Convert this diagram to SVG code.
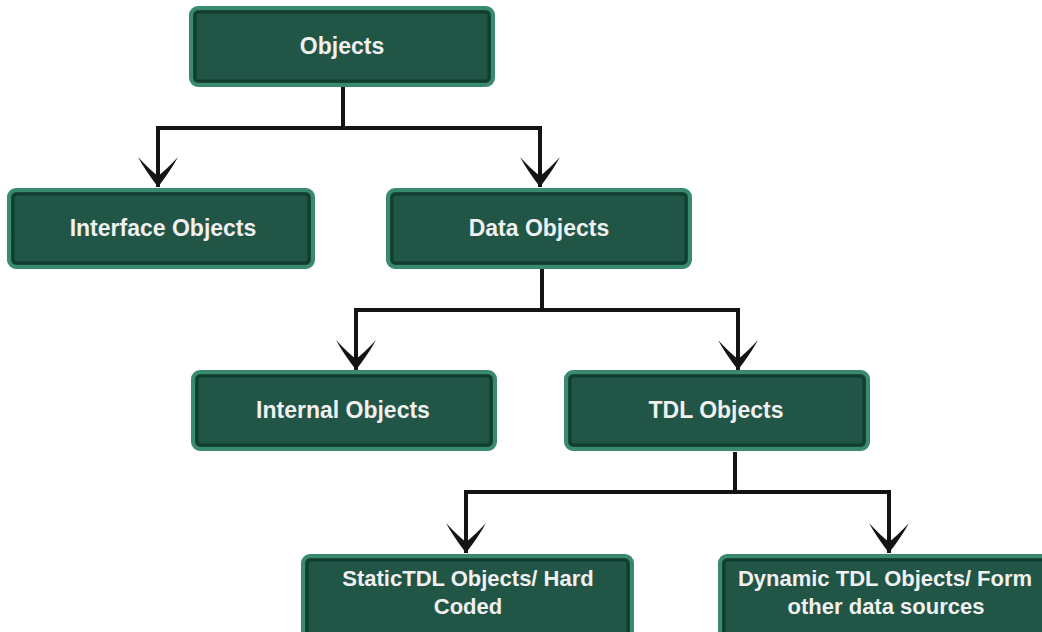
<svg xmlns="http://www.w3.org/2000/svg" width="1042" height="632" viewBox="0 0 1042 632">
  <style>
    .box { fill: #215546; stroke: #3a8a6d; stroke-width: 4; }
    .bevel { fill: none; stroke: #0c3328; stroke-width: 3; stroke-opacity: 0.7; }
    .label { font-family: "Liberation Sans", Arial, sans-serif; font-weight: bold; font-size: 23px; fill: #f0f0f0; text-anchor: middle; }
    .small { font-size: 22px; }
    .wire { fill: none; stroke: #141414; stroke-width: 4; stroke-linejoin: miter; stroke-linecap: butt; }
  </style>
  <defs>
    <!-- swept arrowhead with a notch at the back -->
    <marker id="head" markerUnits="userSpaceOnUse" markerWidth="34" markerHeight="44" viewBox="-32 -22 34 44" refX="0" refY="0" orient="auto">
      <path d="M0,0 Q-17,-13 -30,-20 Q-17,-8 -11,0 Q-17,8 -30,20 Q-17,13 0,0 Z" fill="#141414"/>
    </marker>
  </defs>

  <rect width="1042" height="632" fill="#ffffff"/>

  <g id="connectors">
    <path class="wire" d="M343,87 V128 H158 V187" marker-end="url(#head)"/>
    <path class="wire" d="M343,128 H540 V187" marker-end="url(#head)"/>
    <path class="wire" d="M542,269 V310 H356 V370" marker-end="url(#head)"/>
    <path class="wire" d="M542,310 H738 V370" marker-end="url(#head)"/>
    <path class="wire" d="M735,452 V492 H466 V553" marker-end="url(#head)"/>
    <path class="wire" d="M735,492 H889 V553" marker-end="url(#head)"/>
  </g>

  <g id="objects">
    <rect class="box" x="191" y="8" width="302" height="77" rx="7"/>
    <rect class="bevel" x="195" y="12" width="294" height="69" rx="4"/>
    <text class="label" x="342" y="54">Objects</text>
  </g>

  <g id="interface-objects">
    <rect class="box" x="9" y="190" width="304" height="77" rx="7"/>
    <rect class="bevel" x="13" y="194" width="296" height="69" rx="4"/>
    <text class="label" x="163" y="236">Interface Objects</text>
  </g>

  <g id="data-objects">
    <rect class="box" x="388" y="190" width="302" height="77" rx="7"/>
    <rect class="bevel" x="392" y="194" width="294" height="69" rx="4"/>
    <text class="label" x="539" y="236">Data Objects</text>
  </g>

  <g id="internal-objects">
    <rect class="box" x="193" y="372" width="302" height="77" rx="7"/>
    <rect class="bevel" x="197" y="376" width="294" height="69" rx="4"/>
    <text class="label" x="343" y="418">Internal Objects</text>
  </g>

  <g id="tdl-objects">
    <rect class="box" x="566" y="372" width="302" height="77" rx="7"/>
    <rect class="bevel" x="570" y="376" width="294" height="69" rx="4"/>
    <text class="label" x="716" y="418">TDL Objects</text>
  </g>

  <g id="static-tdl-objects">
    <rect class="box" x="303" y="556" width="329" height="84" rx="7"/>
    <rect class="bevel" x="307" y="560" width="321" height="76" rx="4"/>
    <text class="label small" x="468" y="586">StaticTDL Objects/ Hard</text>
    <text class="label small" x="468" y="614">Coded</text>
  </g>

  <g id="dynamic-tdl-objects">
    <rect class="box" x="720" y="556" width="340" height="84" rx="7"/>
    <rect class="bevel" x="724" y="560" width="332" height="76" rx="4"/>
    <text class="label small" x="885" y="586">Dynamic TDL Objects/ Form</text>
    <text class="label small" x="886" y="614">other data sources</text>
  </g>
</svg>
